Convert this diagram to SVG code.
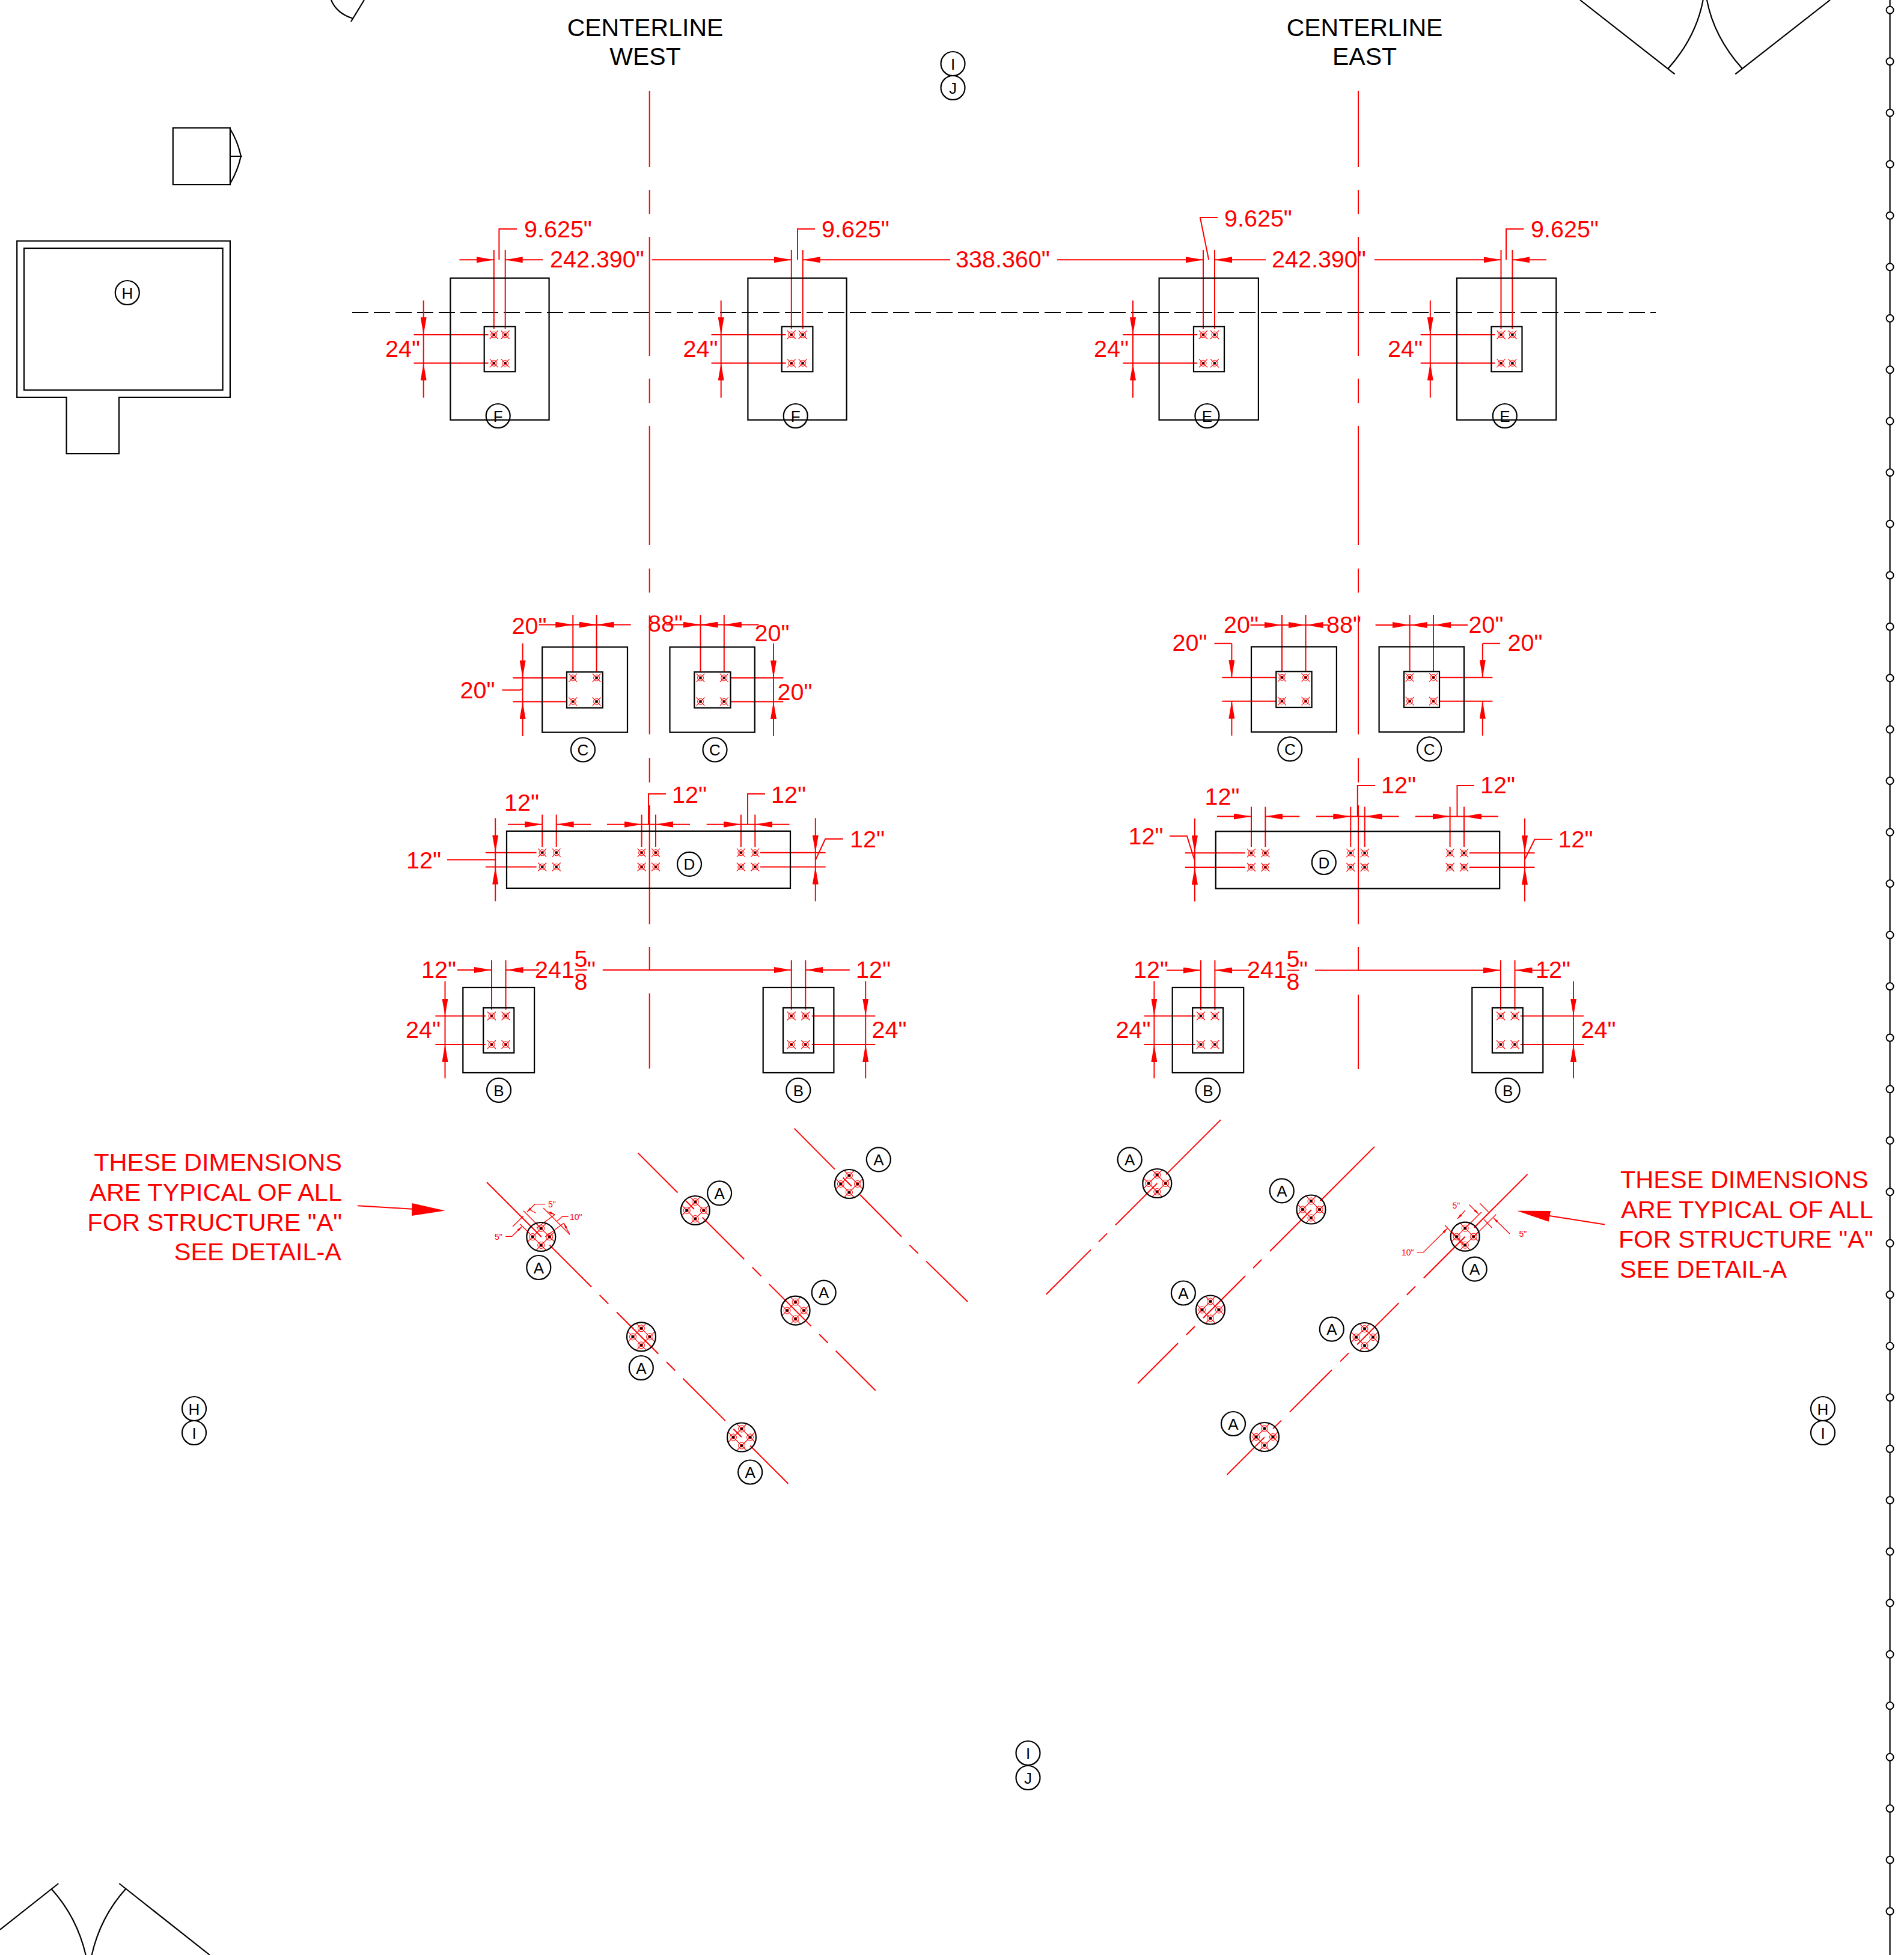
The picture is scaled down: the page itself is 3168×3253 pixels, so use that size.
<svg xmlns="http://www.w3.org/2000/svg" xmlns:xlink="http://www.w3.org/1999/xlink" width="3168" height="3253" viewBox="0 0 3168 3253">
<style>
text{font-family:"Liberation Sans",Arial,sans-serif}
.k{fill:none;stroke:#000;stroke-width:2.2}
.r{fill:none;stroke:#f00;stroke-width:2}
.a{fill:none;stroke:#f00;stroke-width:2;marker-end:url(#arr)}
.s{fill:none;stroke:#f00;stroke-width:1.3;marker-end:url(#tiny)}
.t{fill:none;stroke:#f00;stroke-width:1.3}
.l{font-size:26px;fill:#000;text-anchor:middle}
.d{font-size:39.5px;fill:#f00}
.m{font-size:14px;fill:#f00}
.n{font-size:41.5px;fill:#f00}
.e{text-anchor:end}
.c{font-size:41px;fill:#000;text-anchor:middle}
</style>
<defs>
<marker id="arr" markerUnits="userSpaceOnUse" viewBox="0 0 29 10" refX="29" refY="5" markerWidth="29" markerHeight="10" orient="auto"><path d="M0 0L29 5L0 10Z" fill="#f00"/></marker>
<marker id="tiny" markerUnits="userSpaceOnUse" viewBox="0 0 9 4" refX="9" refY="2" markerWidth="9" markerHeight="4" orient="auto"><path d="M0 0L9 2L0 4Z" fill="#f00"/></marker>
<g id="b"><path d="M-7 -7L7 7M-7 7L7 -7" fill="none" stroke="#f00" stroke-width="1.1"/><circle r="5" fill="none" stroke="#f00" stroke-width="1"/><circle r="2.2" fill="#000" stroke="#f00" stroke-width=".7"/></g>
<g id="p"><circle r="5.5" fill="none" stroke="#f00" stroke-width="1"/><circle r="2.5" fill="#000" stroke="#f00" stroke-width=".7"/></g>
<g id="hub"><path d="M-23 9L9 -23M-9 23L23 -9M-23 -9L9 23M-9 -23L23 9" fill="none" stroke="#f00" stroke-width="1.1"/><use href="#p" x="-14" y="0"/><use href="#p" x="14" y="0"/><use href="#p" x="0" y="-14"/><use href="#p" x="0" y="14"/><circle r="24" class="k"/></g>
</defs>

<g id="outline">
<path class="k" d="M551 0Q560 22 586.5 30.5M606 0L584 36"/>
<path class="k" d="M2629 0L2786.6 123.3M2833.7 0Q2822 62 2775.4 114.3M2840 0Q2852 62 2899 114.3M3045 0L2887.3 123.3"/>
<path class="k" d="M0 3211L97.3 3134M85.7 3143.3Q128 3190 142.7 3253M209 3143.3Q167 3190 152.7 3253M198.3 3134L349 3253"/>
<path class="k" d="M586 520H2755" stroke-dasharray="27 9"/>
</g>

<g id="rail">
<path class="k" d="M3144.6 0V3253"/>
<g fill="#fff" stroke="#000" stroke-width="2">
<circle cx="3144.6" cy="16.7" r="6"/><circle cx="3144.6" cy="102.2" r="6"/><circle cx="3144.6" cy="187.7" r="6"/><circle cx="3144.6" cy="273.2" r="6"/><circle cx="3144.6" cy="358.7" r="6"/><circle cx="3144.6" cy="444.2" r="6"/><circle cx="3144.6" cy="529.7" r="6"/><circle cx="3144.6" cy="615.2" r="6"/><circle cx="3144.6" cy="700.7" r="6"/><circle cx="3144.6" cy="786.2" r="6"/><circle cx="3144.6" cy="871.7" r="6"/><circle cx="3144.6" cy="957.2" r="6"/><circle cx="3144.6" cy="1042.7" r="6"/><circle cx="3144.6" cy="1128.2" r="6"/><circle cx="3144.6" cy="1213.7" r="6"/><circle cx="3144.6" cy="1299.2" r="6"/><circle cx="3144.6" cy="1384.7" r="6"/><circle cx="3144.6" cy="1470.2" r="6"/><circle cx="3144.6" cy="1555.7" r="6"/><circle cx="3144.6" cy="1641.2" r="6"/><circle cx="3144.6" cy="1726.7" r="6"/><circle cx="3144.6" cy="1812.2" r="6"/><circle cx="3144.6" cy="1897.7" r="6"/><circle cx="3144.6" cy="1983.2" r="6"/><circle cx="3144.6" cy="2068.7" r="6"/><circle cx="3144.6" cy="2154.2" r="6"/><circle cx="3144.6" cy="2239.7" r="6"/><circle cx="3144.6" cy="2325.2" r="6"/><circle cx="3144.6" cy="2410.7" r="6"/><circle cx="3144.6" cy="2496.2" r="6"/><circle cx="3144.6" cy="2581.7" r="6"/><circle cx="3144.6" cy="2667.2" r="6"/><circle cx="3144.6" cy="2752.7" r="6"/><circle cx="3144.6" cy="2838.2" r="6"/><circle cx="3144.6" cy="2923.7" r="6"/><circle cx="3144.6" cy="3009.2" r="6"/><circle cx="3144.6" cy="3094.7" r="6"/><circle cx="3144.6" cy="3180.2" r="6"/>
</g>
</g>

<g id="small-box"><rect class="k" x="287.8" y="212.7" width="95.1" height="94.4"/><path class="k" d="M382.9 214.5Q396 236 400.8 260Q396 283 382.9 305.5M382.9 260H403"/></g>
<g id="building"><path class="k" d="M28.2 401H382.9V661H198V755H110.6V661H28.2Z"/><rect class="k" x="40" y="413" width="330.6" height="236"/><circle class="k" cx="211.8" cy="487" r="20"/><text class="l" x="211.8" y="496.5">H</text></g>

<g id="grid-tags">
<circle class="k" cx="1585.5" cy="106" r="20"/><text class="l" x="1585.5" y="115.5">I</text>
<circle class="k" cx="1585.5" cy="146" r="20"/><text class="l" x="1585.5" y="155.5">J</text>
<circle class="k" cx="323" cy="2344" r="20"/><text class="l" x="323" y="2353.5">H</text>
<circle class="k" cx="323" cy="2384" r="20"/><text class="l" x="323" y="2393.5">I</text>
<circle class="k" cx="3033" cy="2344" r="20"/><text class="l" x="3033" y="2353.5">H</text>
<circle class="k" cx="3033" cy="2384" r="20"/><text class="l" x="3033" y="2393.5">I</text>
<circle class="k" cx="1710.5" cy="2917" r="20"/><text class="l" x="1710.5" y="2926.5">I</text>
<circle class="k" cx="1710.5" cy="2958" r="20"/><text class="l" x="1710.5" y="2967.5">J</text>
</g>

<g id="titles">
<text class="c" x="1073.5" y="60">CENTERLINE</text><text class="c" x="1073.5" y="108">WEST</text>
<text class="c" x="2270.5" y="60">CENTERLINE</text><text class="c" x="2270.5" y="108">EAST</text>
</g>

<g id="connectors">
<g id="centerlines">
<path class="r" d="M1080.7 151V278M1080.7 316V356M1080.7 394V592M1080.7 630V671M1080.7 709V907M1080.7 946V986M1080.7 1024V1222M1080.7 1261V1302M1080.7 1340V1538M1080.7 1576V1614M1080.7 1653V1778"/>
<path class="r" d="M2260 151V278M2260 316V356M2260 394V592M2260 630V671M2260 709V907M2260 946V986M2260 1024V1222M2260 1261V1302M2260 1340V1538M2260 1576V1615M2260 1655V1779"/>
</g>
<g id="diagonals">
<path class="r" d="M810 1967.3L900.7 2058M914.3 2071.6L984 2141.3M997.7 2155L1012.3 2169.6M1026 2183.3L1095.4 2252.7M1109 2266.3L1123.2 2280.5M1136.4 2293.7L1206.8 2364.1M1220.4 2377.7L1234 2391.3M1248.2 2405.5L1311.4 2468.7"/>
<path class="r" d="M1061.4 1918.4L1127.5 1984.5M1141 1998L1155 2012M1168.6 2025.6L1238.2 2095.2M1251.8 2108.8L1266.4 2123.4M1279.6 2136.6L1349.6 2206.6M1363.2 2220.2L1377.5 2234.5M1390.7 2247.7L1456.8 2313.8"/>
<path class="r" d="M1321.6 1877.6L1389 1945.6M1402.5 1959.5L1416.8 1973.8M1431 1988L1500 2057.7M1513.2 2071.6L1527.5 2085.5M1541 2098.6L1610 2166"/>
<path class="r" d="M2541.5 1953.9L2452.7 2042.7M2437.7 2057.7L2368.7 2126.7M2355 2140.4L2340.7 2154.7M2327.3 2168.1L2258 2237.4M2244 2251.4L2230 2265.4M2216 2279.4L2146 2349.4M2132 2363.4L2118 2377.4M2104 2391.4L2041.5 2453.9"/>
<path class="r" d="M2286.9 1908.1L2196.7 1998.3M2182 2013L2113 2082M2099 2096L2085 2110M2072 2123L2002 2193M1988 2207L1974 2221M1960 2235L1893 2302"/>
<path class="r" d="M2031 1863.4L1940 1954.4M1925.3 1969.1L1856 2038.4M1842 2052.4L1828 2066.4M1815 2079.4L1740.7 2153.7"/>
</g>
<g id="dims-f">
<path class="a" d="M764.4 432.3H821.8"/><path class="a" d="M903 432.3H840.7"/><path class="a" d="M1084.7 432.3H1316.8"/><path class="a" d="M1581 432.3H1335.7"/><path class="a" d="M1759 432.3H2002"/><path class="a" d="M2106 432.3H2021"/><path class="a" d="M2287 432.3H2497.5"/><path class="a" d="M2573 432.3H2516.4"/>
<path class="r" d="M821.8 416V547M840.7 416V547M1316.8 416V547M1335.7 416V547M2002 416V547M2021 416V547M2497.5 416V547M2516.4 416V547"/>
<path class="r" d="M830.4 432.3V381H860.2M1327 432.3V381H1356M2011.2 432.3L1996.9 362H2026M2506 432.3V381H2535.4"/>
<path class="a" d="M704.7 500V557"/><path class="a" d="M704.7 661.7V604.3"/><path class="a" d="M1199.7 500V557"/><path class="a" d="M1199.7 661.7V604.3"/><path class="a" d="M1885 500V557"/><path class="a" d="M1885 661.7V604.3"/><path class="a" d="M2379.8 500V557"/><path class="a" d="M2379.8 661.7V604.3"/>
<path class="r" d="M704.7 557V604.3M1199.7 557V604.3M1885 557V604.3M2379.8 557V604.3M688.6 557H812.6M688.6 604.3H812.6M1183.6 557H1307.6M1183.6 604.3H1307.6M1868.3 557H1992.3M1868.3 604.3H1992.3M2363.7 557H2487.7M2363.7 604.3H2487.7"/>
</g>
<g id="dims-c">
<path class="r" d="M953.3 1023V1118M992.6 1023V1118M1165.5 1023V1118M1204.8 1023V1118M2133 1023V1117M2172.5 1023V1117M2345.6 1023V1117M2385 1023V1117"/>
<path class="r" d="M896.6 1039.6H1049.7M1108.4 1039.6H1262.4M2080.6 1040H2210.6M2288.6 1040H2442.4"/>
<path class="a" d="M924 1039.6H953.3"/><path class="a" d="M963 1039.6H992.6"/><path class="a" d="M1022 1039.6H992.6"/><path class="a" d="M1137 1039.6H1165.5"/><path class="a" d="M1195 1039.6H1165.5"/><path class="a" d="M1234 1039.6H1204.8"/>
<path class="a" d="M2105 1040H2133"/><path class="a" d="M2144 1040H2172.5"/><path class="a" d="M2202 1040H2172.5"/><path class="a" d="M2317 1040H2345.6"/><path class="a" d="M2375 1040H2345.6"/><path class="a" d="M2414 1040H2385"/>
<path class="a" d="M869.6 1070.5V1127.9"/><path class="a" d="M869.6 1225V1167.4"/><path class="r" d="M869.6 1127.9V1167.4M853.3 1127.9H943M853.3 1167.4H943M835.4 1148.3H865L869.6 1146"/>
<path class="a" d="M1287 1070.5V1127.9"/><path class="a" d="M1287 1225V1167.4"/><path class="r" d="M1287 1127.9V1167.4M1215.5 1127.9H1303.3M1215.5 1167.4H1303.3"/>
<path class="a" d="M2049.4 1070.7V1127.3"/><path class="a" d="M2049.4 1224V1166.7"/><path class="r" d="M2020.5 1070.7H2049.4M2033.4 1127.3H2123.3M2033.4 1166.7H2123.3"/>
<path class="a" d="M2466.8 1070.7V1127.3"/><path class="a" d="M2466.8 1224V1166.7"/><path class="r" d="M2496 1070.7H2466.8M2395 1127.3H2483.3M2395 1166.7H2483.3"/>
</g>
<g id="dims-d">
<path class="r" d="M902.2 1355.6V1409M925.7 1355.6V1409M1067.6 1355.6V1409M1091 1355.6V1409M1232.9 1355.6V1409M1256.3 1355.6V1409"/>
<path class="a" d="M845 1371.8H902.2"/><path class="a" d="M983 1371.8H925.7"/><path class="a" d="M1010 1371.8H1067.6"/><path class="a" d="M1148 1371.8H1091"/><path class="a" d="M1175.7 1371.8H1232.9"/><path class="a" d="M1313.5 1371.8H1256.3"/>
<path class="r" d="M1067.6 1371.8H1091M1232.9 1371.8H1256.3M1079 1371.8V1321H1108M1244 1371.8V1321H1273"/>
<path class="a" d="M824.2 1361.3V1418.8"/><path class="a" d="M824.2 1499.5V1442.5"/><path class="r" d="M824.2 1418.8V1442.5M807.9 1418.8H892.6M807.9 1442.5H892.6M744 1430.6H824.2"/>
<path class="a" d="M1356.8 1361.3V1418.8"/><path class="a" d="M1356.8 1499.5V1442.5"/><path class="r" d="M1356.8 1418.8V1442.5M1265 1418.8H1373.7M1265 1442.5H1373.7M1356.8 1431L1373.2 1396H1402.8"/>
<path class="r" d="M2082 1342.5V1409M2105.4 1342.5V1409M2247.3 1342.5V1409M2270.7 1342.5V1409M2412.6 1342.5V1409M2436 1342.5V1409"/>
<path class="a" d="M2025 1358.6H2082"/><path class="a" d="M2162.4 1358.6H2105.4"/><path class="a" d="M2190 1358.6H2247.3"/><path class="a" d="M2327.7 1358.6H2270.7"/><path class="a" d="M2354.8 1358.6H2412.6"/><path class="a" d="M2493 1358.6H2436"/>
<path class="r" d="M2247.3 1358.6H2270.7M2412.6 1358.6H2436M2258.8 1358.6V1307H2288.2M2424.5 1358.6V1307H2453"/>
<path class="a" d="M1987.9 1361.8V1419.3"/><path class="a" d="M1987.9 1500V1443"/><path class="r" d="M1987.9 1419.3V1443M1971.8 1419.3H2072M1971.8 1443H2072M1946 1391.3H1975L1988 1432.5"/>
<path class="a" d="M2537 1361.8V1419.3"/><path class="a" d="M2537 1500V1443"/><path class="r" d="M2537 1419.3V1443M2444.7 1419.3H2553.5M2444.7 1443H2553.5M2537 1430L2553.5 1396.7H2583"/>
</g>
<g id="dims-b">
<path class="r" d="M818 1597.7V1680M841.5 1597.7V1680M1316.8 1597.7V1680M1340.3 1597.7V1680M1998 1597.7V1681M2021.4 1597.7V1681M2497 1597.7V1681M2520.5 1597.7V1681"/>
<path class="a" d="M761 1614H818"/><path class="a" d="M897 1614H841.5"/><path class="a" d="M1002.8 1614H1316.8"/><path class="a" d="M1413.8 1614H1340.3"/>
<path class="a" d="M1941 1614.5H1998"/><path class="a" d="M2078 1614.5H2021.4"/><path class="a" d="M2188 1614.5H2497"/><path class="a" d="M2578 1614.5H2520.5"/>
<path class="r" d="M956.5 1614H976.5M2141.5 1614.5H2161.5"/>
<path class="a" d="M740.5 1632.7V1690.5"/><path class="a" d="M740.5 1794.3V1738"/><path class="r" d="M740.5 1690.5V1738M724.4 1690.5H808M724.4 1738H808"/>
<path class="a" d="M1440.2 1632.7V1690.5"/><path class="a" d="M1440.2 1794.3V1738"/><path class="r" d="M1440.2 1690.5V1738M1350.7 1690.5H1456.3M1350.7 1738H1456.3"/>
<path class="a" d="M1920.4 1632.7V1690.5"/><path class="a" d="M1920.4 1794.3V1738"/><path class="r" d="M1920.4 1690.5V1738M1903.9 1690.5H1988.8M1903.9 1738H1988.8"/>
<path class="a" d="M2618 1632.7V1690.5"/><path class="a" d="M2618 1794.3V1738"/><path class="r" d="M2618 1690.5V1738M2529.7 1690.5H2635M2529.7 1738H2635"/>
</g>
<g id="note-arrows">
<path class="r" d="M595 2006.3L690 2012"/><path fill="#f00" d="M740.7 2014.5L685.5 2002L685 2023Z"/>
<path class="r" d="M2578 2023L2670 2037.4"/><path fill="#f00" d="M2524 2014.7L2580 2015L2576.7 2032.7Z"/>
</g>
<g id="detail-west">
<path class="t" d="M871 2014.7L900 2044M865 2036.7L880 2051M853 2041L870.7 2023.5M880 2012L891.7 2018.5M893 2043L923.3 2021M907.3 2058L938 2035.3M904 2010L948.3 2054.3"/>
<path class="s" d="M907.3 2003.7H890L876.7 2016.7"/>
<path class="s" d="M841.3 2057.3H851.7L868.3 2041"/>
<path class="t" d="M927 2031.7L935.3 2024.3H945.7"/>
<path class="s" d="M911 2016L923.3 2021"/><path class="s" d="M948 2054L938 2035"/>
</g>
<g id="detail-east">
<path class="t" d="M2437.7 2044L2465 2016.7M2452 2058L2489.3 2020.7M2404.3 2038.7L2435 2072M2462.3 2002.3L2476.7 2016.7M2469.3 2029.3L2482.7 2043.3"/>
<path class="s" d="M2444.3 2005H2445L2460 2020"/>
<path class="s" d="M2512 2053L2485 2026.7"/>
<path class="s" d="M2357.7 2083.7H2368.3L2408.3 2044"/>
<path class="s" d="M2438 2014L2425 2028"/>
</g>
</g>

<g id="footing-f1"><rect class="k" x="749.4" y="462.7" width="164.2" height="236"/><rect class="k" x="805.7" y="543.3" width="51.7" height="75"/><use href="#b" x="821.8" y="557"/><use href="#b" x="840.7" y="557"/><use href="#b" x="821.8" y="604.3"/><use href="#b" x="840.7" y="604.3"/><circle class="k" cx="828.7" cy="692" r="20"/><text class="l" x="828.7" y="701.5">F</text></g>
<g id="footing-f2"><rect class="k" x="1244.4" y="462.7" width="164.2" height="236"/><rect class="k" x="1300.7" y="543.3" width="51.7" height="75"/><use href="#b" x="1316.8" y="557"/><use href="#b" x="1335.7" y="557"/><use href="#b" x="1316.8" y="604.3"/><use href="#b" x="1335.7" y="604.3"/><circle class="k" cx="1323.7" cy="692" r="20"/><text class="l" x="1323.7" y="701.5">F</text></g>
<g id="footing-e1"><rect class="k" x="1928.6" y="462.7" width="165.3" height="236"/><rect class="k" x="1986" y="543.3" width="51" height="75"/><use href="#b" x="2002" y="557"/><use href="#b" x="2021" y="557"/><use href="#b" x="2002" y="604.3"/><use href="#b" x="2021" y="604.3"/><circle class="k" cx="2008.4" cy="692" r="20"/><text class="l" x="2008.4" y="701.5">E</text></g>
<g id="footing-e2"><rect class="k" x="2424" y="462.7" width="165.3" height="236"/><rect class="k" x="2481.4" y="543.3" width="51.1" height="75"/><use href="#b" x="2497.5" y="557"/><use href="#b" x="2516.4" y="557"/><use href="#b" x="2497.5" y="604.3"/><use href="#b" x="2516.4" y="604.3"/><circle class="k" cx="2503.8" cy="692" r="20"/><text class="l" x="2503.8" y="701.5">E</text></g>

<g id="footing-c1"><rect class="k" x="902.2" y="1076.6" width="141.8" height="142"/><rect class="k" x="943" y="1118.2" width="59.8" height="59.6"/><use href="#b" x="953.3" y="1127.9"/><use href="#b" x="992.6" y="1127.9"/><use href="#b" x="953.3" y="1167.4"/><use href="#b" x="992.6" y="1167.4"/><circle class="k" cx="970" cy="1247.5" r="20"/><text class="l" x="970" y="1257">C</text></g>
<g id="footing-c2"><rect class="k" x="1114.5" y="1076.6" width="141.3" height="142"/><rect class="k" x="1155.3" y="1118.2" width="60.2" height="59.6"/><use href="#b" x="1165.5" y="1127.9"/><use href="#b" x="1204.8" y="1127.9"/><use href="#b" x="1165.5" y="1167.4"/><use href="#b" x="1204.8" y="1167.4"/><circle class="k" cx="1189.5" cy="1247.5" r="20"/><text class="l" x="1189.5" y="1257">C</text></g>
<g id="footing-c3"><rect class="k" x="2082" y="1076.3" width="141.9" height="141.7"/><rect class="k" x="2123.3" y="1117.3" width="59.3" height="59.7"/><use href="#b" x="2133" y="1127.3"/><use href="#b" x="2172.5" y="1127.3"/><use href="#b" x="2133" y="1166.7"/><use href="#b" x="2172.5" y="1166.7"/><circle class="k" cx="2146.3" cy="1246.3" r="20"/><text class="l" x="2146.3" y="1255.8">C</text></g>
<g id="footing-c4"><rect class="k" x="2294.6" y="1076.3" width="141.4" height="141.7"/><rect class="k" x="2336" y="1117.3" width="59" height="59.7"/><use href="#b" x="2345.6" y="1127.3"/><use href="#b" x="2385" y="1127.3"/><use href="#b" x="2345.6" y="1166.7"/><use href="#b" x="2385" y="1166.7"/><circle class="k" cx="2378.2" cy="1246.3" r="20"/><text class="l" x="2378.2" y="1255.8">C</text></g>

<g id="footing-d1"><rect class="k" x="843" y="1382.9" width="472" height="95"/><use href="#b" x="902.2" y="1418.8"/><use href="#b" x="925.7" y="1418.8"/><use href="#b" x="1067.6" y="1418.8"/><use href="#b" x="1091" y="1418.8"/><use href="#b" x="1232.9" y="1418.8"/><use href="#b" x="1256.3" y="1418.8"/><use href="#b" x="902.2" y="1442.5"/><use href="#b" x="925.7" y="1442.5"/><use href="#b" x="1067.6" y="1442.5"/><use href="#b" x="1091" y="1442.5"/><use href="#b" x="1232.9" y="1442.5"/><use href="#b" x="1256.3" y="1442.5"/><circle class="k" cx="1147" cy="1437.8" r="20"/><text class="l" x="1147" y="1447.3">D</text></g>
<g id="footing-d2"><rect class="k" x="2022.8" y="1383.4" width="472.4" height="95.1"/><use href="#b" x="2082" y="1419.3"/><use href="#b" x="2105.4" y="1419.3"/><use href="#b" x="2247.3" y="1419.3"/><use href="#b" x="2270.7" y="1419.3"/><use href="#b" x="2412.6" y="1419.3"/><use href="#b" x="2436" y="1419.3"/><use href="#b" x="2082" y="1443"/><use href="#b" x="2105.4" y="1443"/><use href="#b" x="2247.3" y="1443"/><use href="#b" x="2270.7" y="1443"/><use href="#b" x="2412.6" y="1443"/><use href="#b" x="2436" y="1443"/><circle class="k" cx="2202.8" cy="1435" r="20"/><text class="l" x="2202.8" y="1444.5">D</text></g>

<g id="footing-b1"><rect class="k" x="770.3" y="1643" width="118.8" height="142"/><rect class="k" x="804.2" y="1677" width="51.1" height="75"/><use href="#b" x="818" y="1690.5"/><use href="#b" x="841.5" y="1690.5"/><use href="#b" x="818" y="1738"/><use href="#b" x="841.5" y="1738"/><circle class="k" cx="830" cy="1814" r="20"/><text class="l" x="830" y="1823.5">B</text></g>
<g id="footing-b2"><rect class="k" x="1269.7" y="1643" width="117.7" height="142"/><rect class="k" x="1303" y="1677" width="51" height="75"/><use href="#b" x="1316.8" y="1690.5"/><use href="#b" x="1340.3" y="1690.5"/><use href="#b" x="1316.8" y="1738"/><use href="#b" x="1340.3" y="1738"/><circle class="k" cx="1328.3" cy="1814" r="20"/><text class="l" x="1328.3" y="1823.5">B</text></g>
<g id="footing-b3"><rect class="k" x="1950.7" y="1643" width="118.5" height="142"/><rect class="k" x="1984.2" y="1677" width="51" height="75"/><use href="#b" x="1998" y="1690.5"/><use href="#b" x="2021.4" y="1690.5"/><use href="#b" x="1998" y="1738"/><use href="#b" x="2021.4" y="1738"/><circle class="k" cx="2009.9" cy="1814" r="20"/><text class="l" x="2009.9" y="1823.5">B</text></g>
<g id="footing-b4"><rect class="k" x="2449.3" y="1643" width="118" height="142"/><rect class="k" x="2482.9" y="1677" width="50.9" height="75"/><use href="#b" x="2497" y="1690.5"/><use href="#b" x="2520.5" y="1690.5"/><use href="#b" x="2497" y="1738"/><use href="#b" x="2520.5" y="1738"/><circle class="k" cx="2508.6" cy="1814" r="20"/><text class="l" x="2508.6" y="1823.5">B</text></g>

<g id="structure-a">
<use href="#hub" x="900.3" y="2058"/><use href="#hub" x="1067" y="2224.3"/><use href="#hub" x="1234" y="2391.5"/><use href="#hub" x="1156.8" y="2014"/><use href="#hub" x="1323.6" y="2180.6"/><use href="#hub" x="1412.9" y="1970"/>
<use href="#hub" x="2437.7" y="2057.7"/><use href="#hub" x="2270.5" y="2225"/><use href="#hub" x="2104" y="2391"/><use href="#hub" x="2181.5" y="2012.5"/><use href="#hub" x="2014" y="2179.5"/><use href="#hub" x="1925.3" y="1969"/>
<circle class="k" cx="896.3" cy="2109" r="20"/><text class="l" x="896.3" y="2118.5">A</text>
<circle class="k" cx="1066.8" cy="2276" r="20"/><text class="l" x="1066.8" y="2285.5">A</text>
<circle class="k" cx="1248.2" cy="2449.5" r="20"/><text class="l" x="1248.2" y="2459">A</text>
<circle class="k" cx="1197.1" cy="1985.3" r="20"/><text class="l" x="1197.1" y="1994.8">A</text>
<circle class="k" cx="1370.7" cy="2150.6" r="20"/><text class="l" x="1370.7" y="2160.1">A</text>
<circle class="k" cx="1461.8" cy="1929.3" r="20"/><text class="l" x="1461.8" y="1938.8">A</text>
<circle class="k" cx="2453.7" cy="2111.7" r="20"/><text class="l" x="2453.7" y="2121.2">A</text>
<circle class="k" cx="2215.8" cy="2211.7" r="20"/><text class="l" x="2215.8" y="2221.2">A</text>
<circle class="k" cx="2052" cy="2369" r="20"/><text class="l" x="2052" y="2378.5">A</text>
<circle class="k" cx="2132.8" cy="1981.4" r="20"/><text class="l" x="2132.8" y="1990.9">A</text>
<circle class="k" cx="1968.9" cy="2151.5" r="20"/><text class="l" x="1968.9" y="2161">A</text>
<circle class="k" cx="1879.7" cy="1929.4" r="20"/><text class="l" x="1879.7" y="1938.9">A</text>
</g>

<g id="dim-text">
<text class="d" x="872" y="395">9.625"</text><text class="d" x="1367" y="395">9.625"</text><text class="d" x="2037" y="377">9.625"</text><text class="d" x="2547" y="395">9.625"</text>
<text class="d" x="915" y="445">242.390"</text><text class="d" x="1590" y="445">338.360"</text><text class="d" x="2116" y="445">242.390"</text>
<text class="d" x="641" y="594">24"</text><text class="d" x="1136.5" y="593.5">24"</text><text class="d" x="1820" y="594">24"</text><text class="d" x="2309" y="594">24"</text>
<text class="d" x="851.5" y="1054.7">20"</text><text class="d" x="1078" y="1050.7">88"</text><text class="d" x="1255.5" y="1067.2">20"</text><text class="d" x="765.5" y="1162.3">20"</text><text class="d" x="1293.5" y="1165.2">20"</text>
<text class="d" x="2036" y="1053.3">20"</text><text class="d" x="2207" y="1053.3">88"</text><text class="d" x="2443.5" y="1053.3">20"</text><text class="d" x="1950.5" y="1083.3">20"</text><text class="d" x="2508.5" y="1083.3">20"</text>
<text class="d" x="839" y="1348.5">12"</text><text class="d" x="1118" y="1335.5">12"</text><text class="d" x="1283" y="1335.5">12"</text><text class="d" x="676" y="1445">12"</text><text class="d" x="1414" y="1410">12"</text>
<text class="d" x="2004.5" y="1338.5">12"</text><text class="d" x="2298" y="1320.2">12"</text><text class="d" x="2463" y="1320.2">12"</text><text class="d" x="1877.5" y="1404.5">12"</text><text class="d" x="2592.5" y="1410">12"</text>
<text class="d" x="701" y="1627">12"</text><text class="d" x="1424" y="1627">12"</text><text class="d" x="1886" y="1627">12"</text><text class="d" x="2555" y="1627">12"</text>
<text class="d" x="890" y="1627">241</text><text class="d" x="955.5" y="1609">5</text><text class="d" x="955.5" y="1647">8</text><text class="d" x="977" y="1627">"</text>
<text class="d" x="2075" y="1627">241</text><text class="d" x="2140.5" y="1609">5</text><text class="d" x="2140.5" y="1647">8</text><text class="d" x="2162" y="1627">"</text>
<text class="d" x="675" y="1727">24"</text><text class="d" x="1450.5" y="1727">24"</text><text class="d" x="1856.5" y="1727">24"</text><text class="d" x="2630.5" y="1727">24"</text>
<text class="m" x="948" y="2030">10"</text><text class="m" x="912" y="2009">5"</text><text class="m" x="823" y="2062.5">5"</text>
<text class="m" x="2332" y="2089">10"</text><text class="m" x="2416.5" y="2011">5"</text><text class="m" x="2527.5" y="2057.5">5"</text>
</g>

<g id="notes">
<text class="n e" x="569" y="1948">THESE DIMENSIONS</text><text class="n e" x="569" y="1998">ARE TYPICAL OF ALL</text><text class="n e" x="569" y="2048">FOR STRUCTURE "A"</text><text class="n e" x="568" y="2097">SEE DETAIL-A</text>
<text class="n" x="2696" y="1977">THESE DIMENSIONS</text><text class="n" x="2697" y="2027">ARE TYPICAL OF ALL</text><text class="n" x="2693" y="2076">FOR STRUCTURE "A"</text><text class="n" x="2695" y="2126">SEE DETAIL-A</text>
</g>
</svg>
